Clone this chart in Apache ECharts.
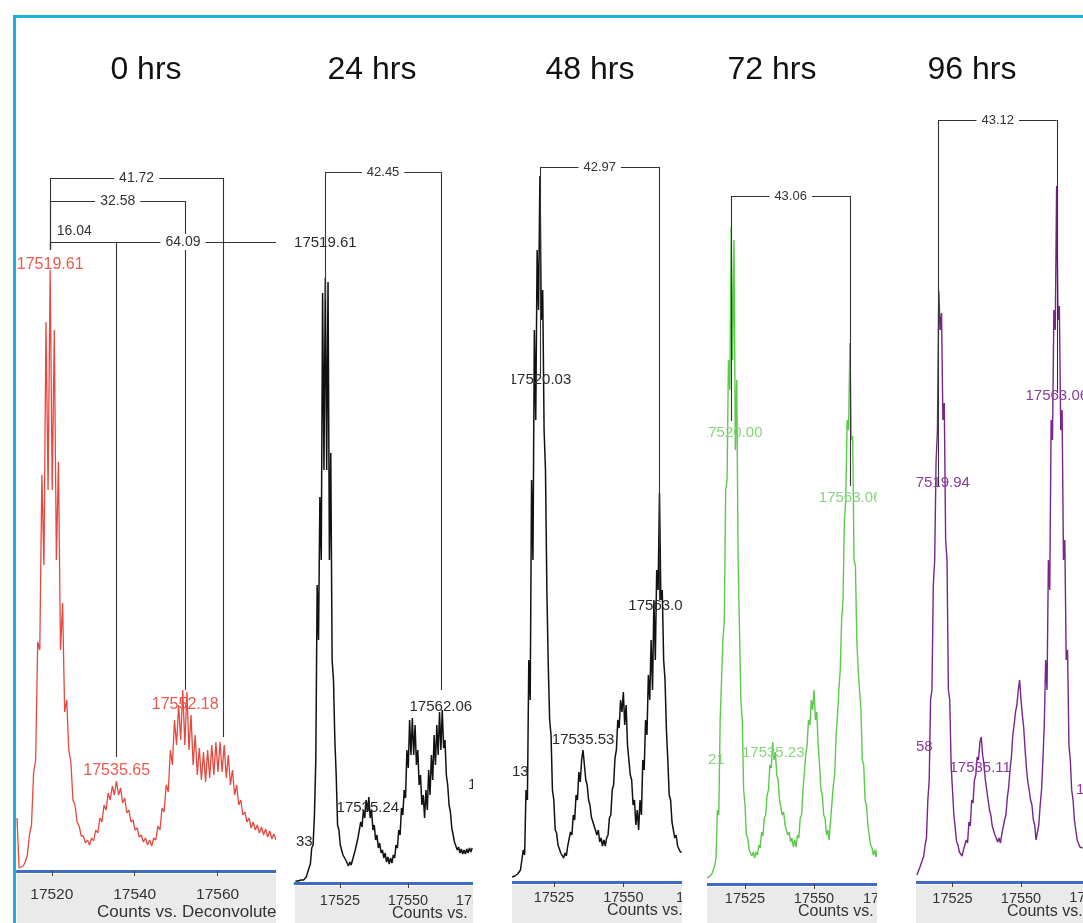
<!DOCTYPE html>
<html>
<head>
<meta charset="utf-8">
<title>Deconvoluted mass spectra, 0 - 96 hrs</title>
<script src="https://cdn.jsdelivr.net/npm/echarts@6/dist/echarts.min.js"></script>
<style>
  html, body { margin: 0; padding: 0; background: #fff; }
  #main { width: 1083px; height: 923px; }
</style>
</head>
<body>
<div id="main"></div>
<script>
// time points
const panelTitles = ['0 hrs', '24 hrs', '48 hrs', '72 hrs', '96 hrs'];

// deconvoluted spectra, one value every 0.5 amu from the start mass
const massStep = 0.5;
const startMass = [17511.6, 17508.6, 17510.0, 17511.0, 17512.0];

// 0 hrs
const counts0 = [
  53, 3, 4, 5, 9, 16, 36, 46, 98, 111,
  229, 221, 396, 306, 549, 381, 601, 381, 541, 311,
  409, 221, 268, 159, 171, 121, 109, 71, 66, 49,
  45, 35, 35, 28, 31, 26, 33, 30, 41, 38,
  53, 49, 66, 61, 78, 71, 85, 76, 90, 76,
  83, 68, 73, 58, 61, 49, 51, 41, 43, 34,
  36, 29, 33, 26, 31, 25, 33, 31, 45, 41,
  63, 59, 86, 79, 121, 106, 151, 126, 166, 131,
  181, 126, 179, 121, 156, 106, 136, 96, 123, 91,
  119, 89, 121, 93, 126, 96, 129, 99, 129, 99,
  126, 93, 116, 86, 101, 76, 86, 66, 71, 56,
  59, 49, 53, 43, 49, 41, 46, 38, 44, 36,
  42, 34, 40, 32, 37, 31
];
// 24 hrs
const counts24 = [
  2, 2, 2, 2, 3, 3, 3, 4, 6, 8,
  15, 19, 35, 38, 68, 123, 298, 243, 386, 323,
  590, 413, 605, 413, 601, 323, 430, 223, 203, 143,
  108, 58, 53, 38, 38, 28, 30, 23, 25, 17,
  21, 18, 23, 21, 33, 31, 45, 43, 61, 56,
  73, 65, 83, 71, 86, 65, 73, 53, 58, 43,
  48, 35, 40, 30, 33, 25, 30, 21, 26, 19,
  25, 20, 28, 25, 38, 35, 53, 48, 75, 68,
  93, 85, 133, 115, 163, 128, 165, 128, 158, 118,
  133, 98, 108, 78, 88, 65, 93, 73, 113, 88,
  128, 103, 148, 118, 158, 128, 171, 133, 173, 135,
  143, 108, 98, 78, 71, 55, 53, 41, 40, 33,
  36, 30, 34, 29, 33, 29, 34, 30, 35, 31, 35
];
// 48 hrs
const counts48 = [
  5, 5, 6, 6, 8, 7, 12, 12, 32, 27,
  92, 82, 222, 182, 402, 322, 552, 462, 632, 572,
  706, 562, 592, 452, 412, 292, 217, 162, 147, 92,
  82, 52, 49, 37, 37, 29, 30, 24, 29, 26,
  36, 34, 50, 47, 67, 62, 87, 82, 110, 100,
  122, 132, 117, 102, 97, 82, 77, 65, 67, 56,
  57, 47, 52, 40, 44, 36, 42, 36, 44, 47,
  64, 67, 92, 97, 124, 132, 162, 154, 182, 170,
  190, 157, 177, 137, 137, 107, 102, 77, 82, 57,
  72, 52, 82, 67, 122, 112, 162, 147, 207, 182,
  242, 192, 282, 222, 312, 292, 389, 282, 292, 222,
  202, 152, 122, 87, 82, 60, 59, 44, 47, 36,
  37, 30, 30
];
// 72 hrs
const counts72 = [
  6, 6, 7, 7, 10, 12, 18, 26, 74, 69,
  164, 164, 244, 264, 394, 404, 524, 494, 657, 524,
  644, 434, 504, 324, 324, 184, 164, 94, 79, 49,
  46, 34, 36, 28, 32, 26, 32, 29, 39, 36,
  52, 48, 66, 69, 89, 94, 119, 116, 142, 124,
  132, 109, 104, 84, 84, 69, 72, 59, 59, 49,
  52, 42, 46, 37, 44, 37, 49, 46, 66, 69,
  94, 94, 129, 139, 164, 159, 184, 174, 194, 164,
  172, 139, 119, 94, 89, 69, 66, 49, 54, 44,
  64, 62, 99, 109, 149, 169, 194, 214, 264, 284,
  364, 384, 464, 454, 541, 444, 448, 324, 318, 244,
  214, 194, 174, 124, 119, 84, 79, 59, 49, 39,
  36, 29, 34, 27, 36
];
// 96 hrs
const counts96 = [
  7, 9, 14, 16, 22, 26, 37, 44, 82, 102,
  182, 192, 297, 322, 420, 452, 591, 552, 569, 462,
  479, 342, 322, 192, 182, 117, 92, 67, 54, 40,
  37, 30, 32, 26, 32, 30, 42, 39, 60, 56,
  82, 79, 102, 107, 125, 122, 140, 145, 127, 117,
  102, 92, 82, 72, 67, 56, 54, 47, 47, 40,
  44, 39, 48, 47, 62, 67, 84, 95, 112, 125,
  147, 157, 170, 177, 192, 202, 182, 167, 154, 132,
  114, 100, 92, 82, 77, 62, 57, 42, 50, 57,
  77, 92, 122, 157, 222, 192, 322, 292, 462, 442,
  572, 552, 696, 562, 576, 452, 472, 322, 342, 222,
  232, 137, 122, 92, 82, 62, 52, 42, 40, 35,
  36, 34
];
const allCounts = [counts0, counts24, counts48, counts72, counts96];

// mass axis
const massMin = [17511.6, 17508.45, 17509.96, 17511.23, 17511.68];
const massMax = [17574.1, 17576, 17571.1, 17576, 17572.63];
const tickMasses = [
  [17520, 17540, 17560],
  [17525, 17550, 17575],
  [17525, 17550],
  [17525, 17550, 17575],
  [17525, 17550]
];
// tick labels that fall just outside a window and show only in part
const cutTickLabels = [
  { text: '1', x: 676, y: 898, align: 'left' },
  { text: '17575', x: 1089.5, y: 898, align: 'center' }
];

// labelled peaks: [mass, label height, text]
const peakLabels = [
  [[17519.61, 606, '17519.61'], [17535.65, 100, '17535.65'], [17552.18, 166, '17552.18']],
  [[17519.61, 640, '17519.61'], [17535.24, 75, '17535.24'], [17562.06, 176, '17562.06']],
  [[17520.03, 502, '17520.03'], [17535.53, 142, '17535.53'], [17563.06, 276, '17563.06']],
  [[17520.00, 451, '17520.00'], [17535.23, 131, '17535.23'], [17563.06, 386, '17563.06']],
  [[17519.94, 399, '17519.94'], [17535.11, 114, '17535.11'], [17563.06, 486, '17563.06']]
];

// mass differences: [from, to, bracket level, from drop, to drop, text]
const brackets = [
  [
    [17519.61, 17561.33, 693, 621, 134, '41.72'],
    [17519.61, 17552.19, 670, 621, 181, '32.58'],
    [17519.61, 17583.70, 629, 621, null, '64.09'],
    [17519.61, 17535.65, 629, 621, 114, '']
  ],
  [[17519.61, 17562.06, 711, 583, 193, '42.45']],
  [[17520.03, 17563.00, 715, 507, 282, '42.97']],
  [[17520.00, 17563.06, 688, 463, 398, '43.06']],
  [[17519.94, 17563.06, 762, 396, 489, '43.12']]
];
// the 16.04 label sits above its line, left of the middle
const extraNotes = [[17525.4, 640, '16.04']];

// layout of the five panels
const layout = [
  { left: 17, width: 259, height: 771, band: [17, 276], color: '#e8473d', lineWidth: 1.3, labelColor: '#ea5a50', titleX: 146,
    peakSize: 16, noteSize: 14, tickSize: 15.5, tickMargin: 16, countsX: 97, countsY: 913, countsText: 'Counts vs. Deconvolute', countsSize: 17 },
  { left: 295, width: 183.7, height: 783, band: [295, 473], color: '#111111', lineWidth: 1.5, labelColor: '#2b2b2b', titleX: 372,
    peakSize: 15, noteSize: 13, tickSize: 14.5, tickMargin: 10, countsX: 392, countsY: 915, countsText: 'Counts vs.', countsSize: 16 },
  { left: 512, width: 170, height: 782, band: [512, 682], color: '#111111', lineWidth: 1.5, labelColor: '#2b2b2b', titleX: 590,
    peakSize: 15, noteSize: 13, tickSize: 14.5, tickMargin: 8, countsX: 607, countsY: 912, countsText: 'Counts vs.', countsSize: 16 },
  { left: 707, width: 178.8, height: 784, band: [707, 877], color: '#5cc94c', lineWidth: 1.4, labelColor: '#88d47e', titleX: 772,
    peakSize: 15, noteSize: 13, tickSize: 14.5, tickMargin: 7, countsX: 798, countsY: 913, countsText: 'Counts vs.', countsSize: 16 },
  { left: 916, width: 167, height: 782, band: [916, 1083], color: '#77248b', lineWidth: 1.4, labelColor: '#8a3c9d', titleX: 972,
    peakSize: 15, noteSize: 13, tickSize: 14.5, tickMargin: 9, countsX: 1007, countsY: 913, countsText: 'Counts vs.', countsSize: 16 }
];
const plotTop = 100;

// cut-off labels of peaks outside the visible windows
const clippedLabels = [
  { text: '33', x: 296, y: 842, color: '#2b2b2b' },
  { text: '1', x: 468, y: 785, color: '#2b2b2b' },
  { text: '13', x: 512, y: 772, color: '#2b2b2b' },
  { text: '21', x: 708, y: 760, color: '#88d47e' },
  { text: '58', x: 916, y: 747, color: '#8a3c9d' },
  { text: '17', x: 1076, y: 790, color: '#8a3c9d' }
];

const FONT = "'Liberation Sans', Arial, sans-serif";
const chart = echarts.init(document.getElementById('main'), null, { renderer: 'canvas' });

const grids = [], xAxes = [], yAxes = [], series = [], graphics = [];

function bracketSegments(b, xMax) {
  const [from, to, level, fromDrop, toDrop] = b;
  const end = Math.min(to, xMax);
  const segs = [
    [{ coord: [from, fromDrop] }, { coord: [from, level] }],
    [{ coord: [from, level] }, { coord: [end, level] }]
  ];
  if (toDrop != null) segs.push([{ coord: [to, level] }, { coord: [to, toDrop] }]);
  return segs;
}

layout.forEach((p, i) => {
  grids.push({ left: p.left, top: plotTop, width: p.width, height: p.height, containLabel: false });
  xAxes.push({
    gridIndex: i, type: 'value', min: massMin[i], max: massMax[i],
    axisLine: { show: true, onZero: false, lineStyle: { color: '#3f6cc0', width: 3 } },
    axisTick: { show: true, customValues: tickMasses[i], length: 5, lineStyle: { color: '#444', width: 1 } },
    axisLabel: { customValues: tickMasses[i], fontSize: p.tickSize, color: '#333', margin: p.tickMargin,
      fontFamily: FONT, formatter: v => String(v) },
    splitLine: { show: false }
  });
  yAxes.push({ gridIndex: i, type: 'value', min: 0, max: p.height, show: false });

  const data = allCounts[i].map((c, k) => [+(startMass[i] + k * massStep).toFixed(2), c]);

  const lines = [];
  const notes = [];
  brackets[i].forEach(b => {
    bracketSegments(b, massMax[i]).forEach(s => lines.push(s));
    if (b[5]) notes.push({ name: b[5], coord: [(b[0] + b[1]) / 2, b[2]] });
  });
  if (i === 0) extraNotes.forEach(n => notes.push({ name: n[2], coord: [n[0], n[1]], plain: true }));

  const marks = peakLabels[i].map(l => ({
    name: l[2], coord: [l[0], l[1]],
    label: { color: p.labelColor, fontSize: p.peakSize }
  }));
  notes.forEach(n => marks.push({
    name: n.name, coord: n.coord,
    label: n.plain
      ? { color: '#333', fontSize: p.noteSize }
      : { color: '#333', fontSize: p.noteSize, backgroundColor: '#fff', padding: [1, 5] }
  }));

  series.push({
    type: 'line', xAxisIndex: i, yAxisIndex: i, data: data,
    showSymbol: false, symbol: 'none', silent: true,
    lineStyle: { color: p.color, width: p.lineWidth },
    markLine: {
      silent: true, symbol: ['none', 'none'], z: 5,
      lineStyle: { color: '#333', width: 1.1, type: 'solid' },
      label: { show: false },
      data: lines
    },
    markPoint: {
      silent: true, symbol: 'circle', symbolSize: 0, z: 6,
      itemStyle: { color: 'transparent' },
      label: { show: true, position: 'inside', formatter: '{b}', fontFamily: FONT },
      data: marks
    }
  });

  // grey band under the axis
  graphics.push({
    type: 'rect', z: -1,
    shape: { x: p.band[0], y: plotTop + p.height + 3, width: p.band[1] - p.band[0], height: 60 },
    style: { fill: '#eaeaea' }
  });
  graphics.push({
    type: 'text', z: 50, left: p.countsX, top: p.countsY - p.countsSize / 2 - 1,
    style: { text: p.countsText, fontSize: p.countsSize, fill: '#333', fontFamily: FONT }
  });
  // title
  graphics.push({
    type: 'text', z: 50, x: p.titleX, y: 70,
    style: { text: panelTitles[i], fontSize: 32, fill: '#111', fontFamily: FONT, align: 'center', verticalAlign: 'middle' }
  });
});

cutTickLabels.forEach(c => graphics.push({
  type: 'text', z: 50, x: c.x, y: c.y,
  style: { text: c.text, fontSize: 14.5, fill: '#333', fontFamily: FONT, align: c.align, verticalAlign: 'middle' }
}));

clippedLabels.forEach(c => graphics.push({
  type: 'text', z: 50, x: c.x, y: c.y,
  style: { text: c.text, fontSize: 15, fill: c.color, fontFamily: FONT, verticalAlign: 'middle' }
}));

// white gaps between the panels hide what runs past each window
[[276, 293], [473, 512], [682, 707], [877, 916]].forEach(g => graphics.push({
  type: 'rect', z: 100,
  shape: { x: g[0], y: 92, width: g[1] - g[0], height: 840 },
  style: { fill: '#fff' }
}));

// cyan frame
graphics.push({
  type: 'rect', z: 101,
  shape: { x: 14.5, y: 16.5, width: 1200, height: 1000 },
  style: { fill: 'none', stroke: '#18b1e3', lineWidth: 3 }
});

chart.setOption({
  animation: false,
  backgroundColor: '#fff',
  textStyle: { fontFamily: FONT },
  grid: grids,
  xAxis: xAxes,
  yAxis: yAxes,
  series: series,
  graphic: graphics
});
</script>
</body>
</html>
